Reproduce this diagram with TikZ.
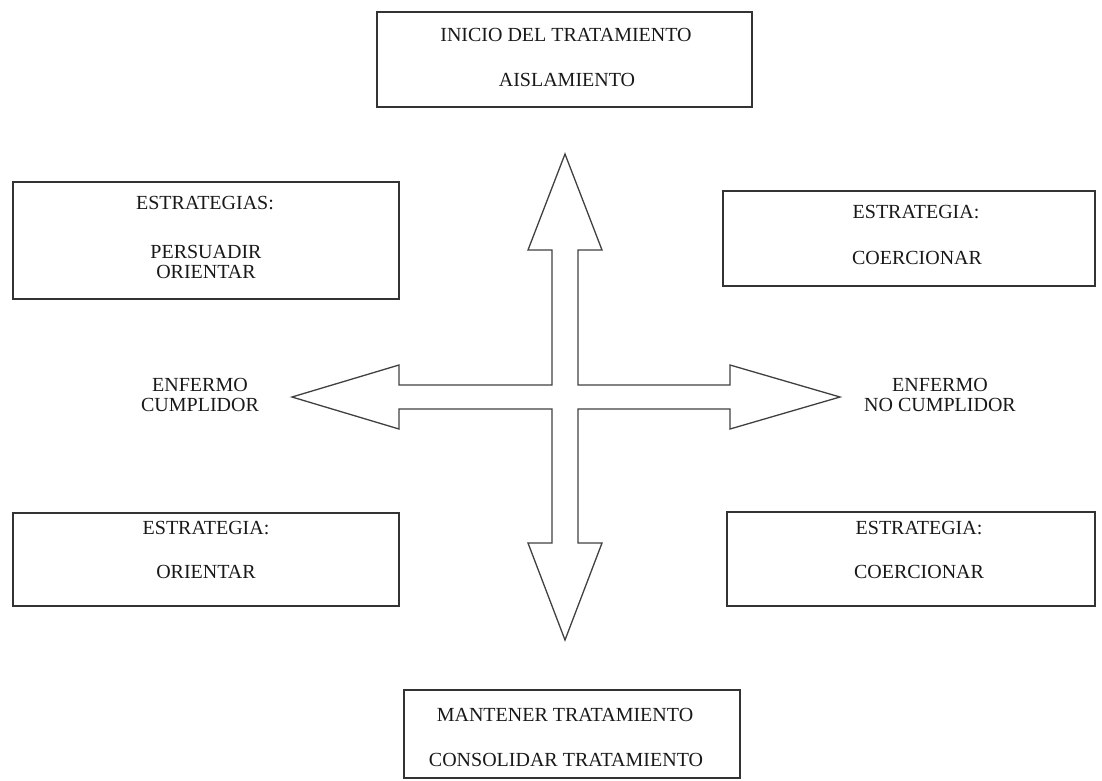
\documentclass[tikz,border=0pt]{standalone}
\usepackage{fontspec}
\setmainfont{Liberation Serif}
\begin{document}
\begin{tikzpicture}[x=1pt,y=-1pt,
  box/.style={draw=black!80, line width=1.4pt, rectangle, inner sep=0pt},
  txt/.style={font=\fontsize{20}{20}\selectfont, inner sep=0pt, align=center, text=black!90},
  crossshape/.style={draw=black!75, line width=1.3pt, line join=miter}]
\useasboundingbox (0,0) rectangle (1102,780);
% boxes
\node[box, minimum width=375pt, minimum height=95pt] (btop) at (564.5,59.5) {};
\node[box, minimum width=386pt, minimum height=117pt] (blu) at (206,240.5) {};
\node[box, minimum width=372pt, minimum height=95pt] (bru) at (909,238.5) {};
\node[box, minimum width=386pt, minimum height=93pt] (bll) at (206,559.5) {};
\node[box, minimum width=368pt, minimum height=94pt] (brl) at (911,559) {};
\node[box, minimum width=336pt, minimum height=88pt] (bbot) at (572,734) {};
% texts
\node[txt] (t1a) at (566,35) {INICIO DEL TRATAMIENTO};
\node[txt] (t1b) at (567,80) {AISLAMIENTO};
\node[txt] (t2a) at (205,203) {ESTRATEGIAS:};
\node[txt] (t2b) at (206,262) {PERSUADIR\\ORIENTAR};
\node[txt] (t3a) at (916,212) {ESTRATEGIA:};
\node[txt] (t3b) at (917,258) {COERCIONAR};
\node[txt] (t4a) at (206,528) {ESTRATEGIA:};
\node[txt] (t4b) at (206,572) {ORIENTAR};
\node[txt] (t5a) at (919,528) {ESTRATEGIA:};
\node[txt] (t5b) at (919,572) {COERCIONAR};
\node[txt] (t6a) at (565,715) {MANTENER TRATAMIENTO};
\node[txt] (t6b) at (566,760) {CONSOLIDAR TRATAMIENTO};
\node[txt] (tl) at (200,395) {ENFERMO\\CUMPLIDOR};
\node[txt] (tr) at (940,395) {ENFERMO\\NO CUMPLIDOR};
% cross of four arrows
\draw[crossshape] (565,154) -- (602,250) -- (578,250) -- (578,385) -- (730,385) -- (730,365)
  -- (840,397) -- (730,429) -- (730,409) -- (578,409) -- (578,543) -- (602,543)
  -- (565,640) -- (528,543) -- (552,543) -- (552,409) -- (399,409) -- (399,429)
  -- (292,397) -- (399,365) -- (399,385) -- (552,385) -- (552,250) -- (528,250) -- cycle;
\end{tikzpicture}
\end{document}
